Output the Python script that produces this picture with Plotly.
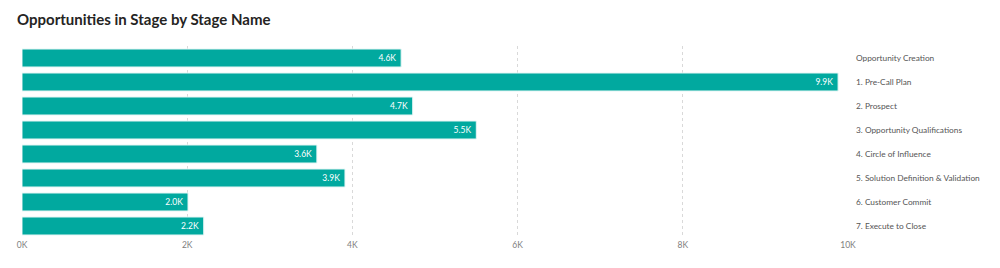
import plotly.graph_objects as go

stages = [
    "Opportunity Creation",
    "1. Pre-Call Plan",
    "2. Prospect",
    "3. Opportunity Qualifications",
    "4. Circle of Influence",
    "5. Solution Definition & Validation",
    "6. Customer Commit",
    "7. Execute to Close",
]
values = [4590, 9880, 4730, 5500, 3570, 3910, 2010, 2200]
tick_vals = [0, 2000, 4000, 6000, 8000, 10000]
tick_text = ["0K", "2K", "4K", "6K", "8K", "10K"]

labels = [f"{v/1000:.1f}K\u00a0" for v in values]

FONT = "Lato, Segoe UI, Open Sans, sans-serif"

fig = go.Figure(
    go.Bar(
        x=values,
        y=stages,
        orientation="h",
        marker=dict(color="#01A99F", line=dict(color="#E6F6F5", width=1)),
        width=0.75,
        text=labels,
        textposition="inside",
        insidetextanchor="end",
        textfont=dict(color="white", size=8.5, family=FONT),
        cliponaxis=False,
        hoverinfo="skip",
    )
)

fig.update_layout(
    width=1000,
    height=268,
    margin=dict(l=22, r=152, t=46, b=30),
    paper_bgcolor="white",
    plot_bgcolor="white",
    showlegend=False,
    title=dict(
        text="<b>Opportunities in Stage by Stage Name</b>",
        x=17 / 1000,
        xanchor="left",
        y=1 - 19.5 / 268,
        yanchor="middle",
        font=dict(family=FONT, size=15, color="#252423"),
    ),
    uniformtext=dict(minsize=8, mode="show"),
)

fig.update_xaxes(
    range=[0, 10000],
    tickvals=tick_vals,
    ticktext=tick_text,
    showgrid=True,
    gridcolor="#D9D9D9",
    griddash="dot",
    gridwidth=1,
    zeroline=False,
    showline=False,
    ticks="",
    automargin=False,
    tickfont=dict(family=FONT, size=8.5, color="#808080"),
    fixedrange=True,
)

fig.update_yaxes(
    categoryorder="array",
    categoryarray=stages,
    autorange="reversed",
    side="right",
    showgrid=False,
    zeroline=False,
    showline=False,
    ticks="",
    automargin=False,
    ticklabelstandoff=7,
    tickfont=dict(family=FONT, size=8.3, color="#555555"),
    fixedrange=True,
)

fig.write_html("out.html")
